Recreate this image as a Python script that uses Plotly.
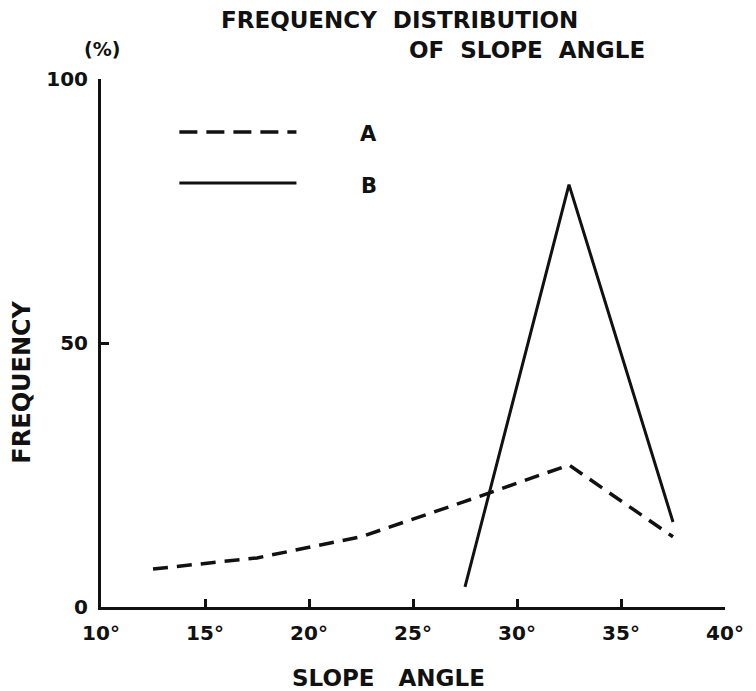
import plotly.graph_objects as go

# Data
slope_mid = [12.5, 17.5, 22.5, 27.5, 32.5, 37.5]
freq_a = [7.2, 9.3, 13.3, 20.0, 26.9, 13.3]
slope_b = [27.5, 32.5, 37.5]
freq_b = [3.8, 80.0, 16.1]
x_ticks = [10, 15, 20, 25, 30, 35, 40]
x_tick_labels = ["10°", "15°", "20°", "25°", "30°", "35°", "40°"]
y_ticks = [0, 50, 100]
y_tick_labels = ["0", "50", "100"]

FONT = "DejaVu Sans"
BLACK = "#111111"

FW, FH = 756, 691
L, R, T, B = 101, FW - 730, 79, FH - 607

fig = go.Figure()
fig.add_trace(go.Scatter(x=slope_mid, y=freq_a, mode="lines", name="A",
                         line=dict(color=BLACK, width=3.5, dash="15px,9px"),
                         showlegend=False))
fig.add_trace(go.Scatter(x=slope_b, y=freq_b, mode="lines", name="B",
                         line=dict(color=BLACK, width=3),
                         showlegend=False))

fig.update_layout(
    width=FW, height=FH,
    margin=dict(l=L, r=R, t=T, b=B),
    paper_bgcolor="white", plot_bgcolor="white",
    font=dict(family=FONT, color=BLACK, size=20, weight="bold"),
    xaxis=dict(range=[10, 40], tickvals=x_ticks, ticktext=x_tick_labels,
               ticks="inside", ticklen=8, tickwidth=3, tickcolor=BLACK,
               showline=True, linewidth=3, linecolor=BLACK, showgrid=False,
               zeroline=False, ticklabelstandoff=6, ticklabeloverflow="allow",
               tickfont=dict(size=20, family=FONT, weight="bold")),
    yaxis=dict(range=[0, 100], tickvals=y_ticks, ticktext=y_tick_labels,
               ticks="inside", ticklen=8, tickwidth=3, tickcolor=BLACK,
               showline=True, linewidth=3, linecolor=BLACK, showgrid=False,
               zeroline=False, ticklabelstandoff=6,
               tickfont=dict(size=20, family=FONT, weight="bold")),
)

def ann(text, x, y, size=20, angle=0, xanchor="center"):
    fig.add_annotation(text=text, x=x, y=y, xref="paper", yref="paper",
                       showarrow=False, textangle=angle, xanchor=xanchor,
                       yanchor="middle",
                       font=dict(family=FONT, size=size, color=BLACK, weight="bold"))

W, H = FW - L - R, FH - T - B
def px(xp):
    return (xp - L) / W
def py(yp):
    return (FH - B - yp) / H

ann("FREQUENCY  DISTRIBUTION", px(402), py(20), size=23)
ann("OF  SLOPE  ANGLE", px(530), py(50), size=23)
ann("(%)", px(102), py(49), size=19)
ann("SLOPE   ANGLE", px(391), py(678), size=23)
ann("FREQUENCY", px(21), py(382), size=24, angle=-90)

# legend samples
fig.add_shape(type="line", xref="paper", yref="paper", x0=px(180), x1=px(298),
              y0=py(132), y1=py(132), line=dict(color=BLACK, width=3.5, dash="18px,9px"))
fig.add_shape(type="line", xref="paper", yref="paper", x0=px(180), x1=px(298),
              y0=py(183), y1=py(183), line=dict(color=BLACK, width=3))
ann("A", px(371), py(134), size=21)
ann("B", px(371), py(186), size=21)

fig.write_html("out.html", config={"displayModeBar": False},
               post_script="document.body.style.margin='0';document.body.style.overflow='hidden';")
